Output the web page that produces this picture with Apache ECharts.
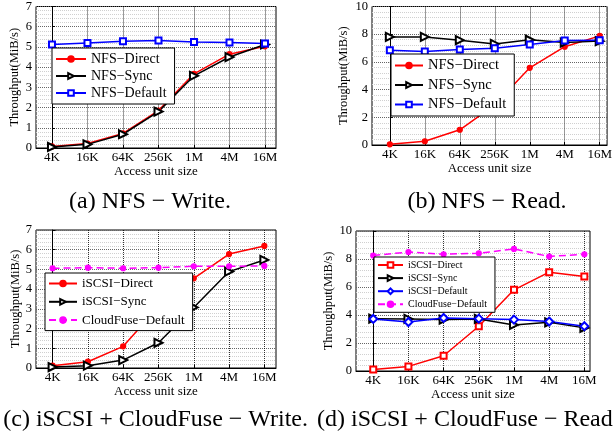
<!DOCTYPE html>
<html>
<head>
<meta charset="utf-8">
<script src="https://cdn.jsdelivr.net/npm/echarts@6/dist/echarts.min.js"></script>
<style>
  html, body { margin: 0; padding: 0; background: #fff; }
  #chart { width: 615px; height: 443px; }
</style>
</head>
<body>
<div id="chart"></div>
<script>
// access unit sizes on the x axis
const sizes = ['4K', '16K', '64K', '256K', '1M', '4M', '16M'];

// (a) NFS - Write
const nfsWriteDirect = [0.08, 0.22, 0.72, 1.85, 3.67, 4.64, 5.03];
const nfsWriteSync = [0.05, 0.18, 0.68, 1.8, 3.57, 4.5, 5.12];
const nfsWriteDefault = [5.12, 5.2, 5.28, 5.32, 5.24, 5.22, 5.17];

// (b) NFS - Read
const nfsReadDirect = [0.05, 0.27, 1.1, 2.9, 5.57, 7.1, 7.88];
const nfsReadSync = [7.8, 7.8, 7.57, 7.3, 7.6, 7.4, 7.5];
const nfsReadDefault = [6.84, 6.75, 6.89, 6.99, 7.25, 7.54, 7.57];

// (c) iSCSI + CloudFuse - Write
const iscsiWriteDirect = [0.12, 0.32, 1.1, 3.1, 4.55, 5.78, 6.19];
const iscsiWriteSync = [0.05, 0.12, 0.4, 1.28, 3.07, 4.89, 5.48];
const cloudWriteDefault = [5.06, 5.09, 5.06, 5.09, 5.16, 5.16, 5.18];

// (d) iSCSI + CloudFuse - Read
const iscsiReadDirect = [0.1, 0.33, 1.09, 3.2, 5.8, 7.06, 6.75];
const iscsiReadSync = [3.74, 3.72, 3.67, 3.72, 3.29, 3.48, 3.08];
const iscsiReadDefault = [3.72, 3.5, 3.79, 3.74, 3.67, 3.53, 3.2];
const cloudReadDefault = [8.25, 8.5, 8.34, 8.41, 8.72, 8.18, 8.34];

const FONT = '"Liberation Serif", "Times New Roman", serif';
const idx = sizes.map((s, i) => i);

var myChart = echarts.init(document.getElementById('chart'));

const panels = [
  {
    grid: { left: 36, right: 339, top: 6, bottom: 295 },
    xmin: -0.45, xmax: 6.31, ymax: 7, yint: 1, nameGap: 15,
    legend: { left: 52, top: 48, padding: [4, 8, 4, 3], itemWidth: 30, itemHeight: 7, itemGap: 3, fontSize: 14 },
    series: [
      { name: 'NFS−Direct', data: nfsWriteDirect, color: '#ff0000', symbol: 'circle', symbolSize: 5 },
      { name: 'NFS−Sync', data: nfsWriteSync, color: '#000000', symbol: 'emptyTriangle', symbolSize: 8, symbolRotate: -90 },
      { name: 'NFS−Default', data: nfsWriteDefault, color: '#0000ff', symbol: 'emptyRect', symbolSize: 6 },
    ],
  },
  {
    grid: { left: 372, right: 6, top: 6, bottom: 298 },
    xmin: -0.51, xmax: 6.21, ymax: 10, yint: 2, nameGap: 22,
    legend: { left: 391, top: 54, padding: [4, 8, 4, 3], itemWidth: 28, itemHeight: 7, itemGap: 4.5, fontSize: 14.5 },
    series: [
      { name: 'NFS−Direct ', data: nfsReadDirect, color: '#ff0000', symbol: 'circle', symbolSize: 5 },
      { name: 'NFS−Sync ', data: nfsReadSync, color: '#000000', symbol: 'emptyTriangle', symbolSize: 8, symbolRotate: -90 },
      { name: 'NFS−Default ', data: nfsReadDefault, color: '#0000ff', symbol: 'emptyRect', symbolSize: 6 },
    ],
  },
  {
    grid: { left: 36, right: 339, top: 230, bottom: 75 },
    xmin: -0.47, xmax: 6.33, ymax: 7, yint: 1, nameGap: 14,
    legend: { left: 45, top: 273, padding: [4, 8, 4, 3], itemWidth: 28, itemHeight: 7, itemGap: 5.3, fontSize: 13 },
    series: [
      { name: 'iSCSI−Direct', data: iscsiWriteDirect, color: '#ff0000', symbol: 'circle', symbolSize: 5 },
      { name: 'iSCSI−Sync', data: iscsiWriteSync, color: '#000000', symbol: 'emptyTriangle', symbolSize: 8, symbolRotate: -90 },
      { name: 'CloudFuse−Default', data: cloudWriteDefault, color: '#ff00ff', symbol: 'circle', symbolSize: 5, dashed: true },
    ],
  },
  {
    grid: { left: 356, right: 25, top: 231, bottom: 72 },
    xmin: -0.49, xmax: 6.16, ymax: 10, yint: 2, nameGap: 18,
    legend: { left: 374, top: 257, padding: [3, 8, 3, 3], itemWidth: 25, itemHeight: 7, itemGap: 3.1, fontSize: 10 },
    series: [
      { name: 'iSCSI−Direct ', data: iscsiReadDirect, color: '#ff0000', symbol: 'emptyRect', symbolSize: 6 },
      { name: 'iSCSI−Sync ', data: iscsiReadSync, color: '#000000', symbol: 'emptyTriangle', symbolSize: 8, symbolRotate: -90 },
      { name: 'iSCSI−Default', data: iscsiReadDefault, color: '#0000ff', symbol: 'emptyDiamond', symbolSize: 8 },
      { name: 'CloudFuse−Default ', data: cloudReadDefault, color: '#ff00ff', symbol: 'circle', symbolSize: 5, dashed: true },
    ],
  },
];

const captions = [
  { text: '(a) NFS − Write.', x: 150, y: 202, align: 'center' },
  { text: '(b) NFS − Read.', x: 487, y: 202, align: 'center' },
  { text: '(c) iSCSI + CloudFuse − Write.', x: 308, y: 420, align: 'right' },
  { text: '(d) iSCSI + CloudFuse − Read', x: 317, y: 420, align: 'left' },
];

let option = {
  animation: false,
  backgroundColor: '#fff',
  textStyle: { fontFamily: FONT },
  grid: [],
  xAxis: [],
  yAxis: [],
  legend: [],
  series: [],
  graphic: [],
};

panels.forEach((p, k) => {
  option.grid.push(Object.assign({ show: true, borderColor: '#000', borderWidth: 1, backgroundColor: 'transparent' }, p.grid));
  option.xAxis.push({
    gridIndex: k,
    type: 'value',
    min: p.xmin,
    max: p.xmax,
    name: 'Access unit size',
    nameLocation: 'middle',
    nameGap: 13,
    nameTextStyle: { fontFamily: FONT, fontSize: 13, color: '#000' },
    axisLine: { lineStyle: { color: '#000' } },
    axisTick: { inside: true, length: 3, customValues: idx, lineStyle: { color: '#000' } },
    axisLabel: {
      customValues: idx,
      margin: 3,
      fontFamily: FONT,
      fontSize: 13,
      color: '#000',
      formatter: (v) => sizes[Math.round(v)],
    },
    splitLine: { show: true, lineStyle: { color: '#000', type: 'dotted', width: 1, opacity: 0.8 } },
  });
  option.yAxis.push({
    gridIndex: k,
    type: 'value',
    min: 0,
    max: p.ymax,
    interval: p.yint,
    name: 'Throughput(MiB/s)',
    nameLocation: 'middle',
    nameGap: p.nameGap,
    nameTextStyle: { fontFamily: FONT, fontSize: 12.5, color: '#000' },
    axisLine: { show: true, lineStyle: { color: '#000' } },
    axisTick: { show: true, inside: true, length: 3, lineStyle: { color: '#000' } },
    axisLabel: { margin: 4, fontFamily: FONT, fontSize: 12.5, color: '#000' },
    minorTick: { show: false, splitNumber: 5 },
    minorSplitLine: { show: true, lineStyle: { color: '#d0d0d0', type: 'dotted', width: 1 } },
    splitLine: { show: true, lineStyle: { color: '#666', type: 'dotted', width: 1 } },
  });
  option.legend.push({
    orient: 'vertical',
    left: p.legend.left,
    top: p.legend.top,
    padding: p.legend.padding,
    itemWidth: p.legend.itemWidth,
    itemHeight: p.legend.itemHeight,
    itemGap: p.legend.itemGap,
    backgroundColor: '#fff',
    borderColor: '#000',
    borderWidth: 1,
    borderRadius: 0,
    selectedMode: false,
    data: p.series.map((s) => s.name),
    formatter: (name) => name.trim(),
    textStyle: { fontFamily: FONT, fontSize: p.legend.fontSize, color: '#000' },
  });
  p.series.forEach((s) => {
    option.series.push({
      name: s.name,
      type: 'line',
      xAxisIndex: k,
      yAxisIndex: k,
      data: s.data.map((v, i) => [i, v]),
      symbol: s.symbol,
      symbolSize: s.symbolSize,
      symbolRotate: s.symbolRotate || 0,
      showAllSymbol: true,
      color: s.color,
      lineStyle: { color: s.color, width: 1.5, type: s.dashed ? [7, 4] : 'solid' },
      itemStyle: { color: s.color, borderColor: s.color, borderWidth: 1.2 },
    });
  });
});

captions.forEach((c) => {
  option.graphic.push({
    type: 'text',
    x: c.x,
    y: c.y,
    style: {
      text: c.text,
      fontFamily: FONT,
      fontSize: 24,
      fill: '#000',
      align: c.align,
      verticalAlign: 'middle',
    },
  });
});

myChart.setOption(option);
</script>
</body>
</html>
